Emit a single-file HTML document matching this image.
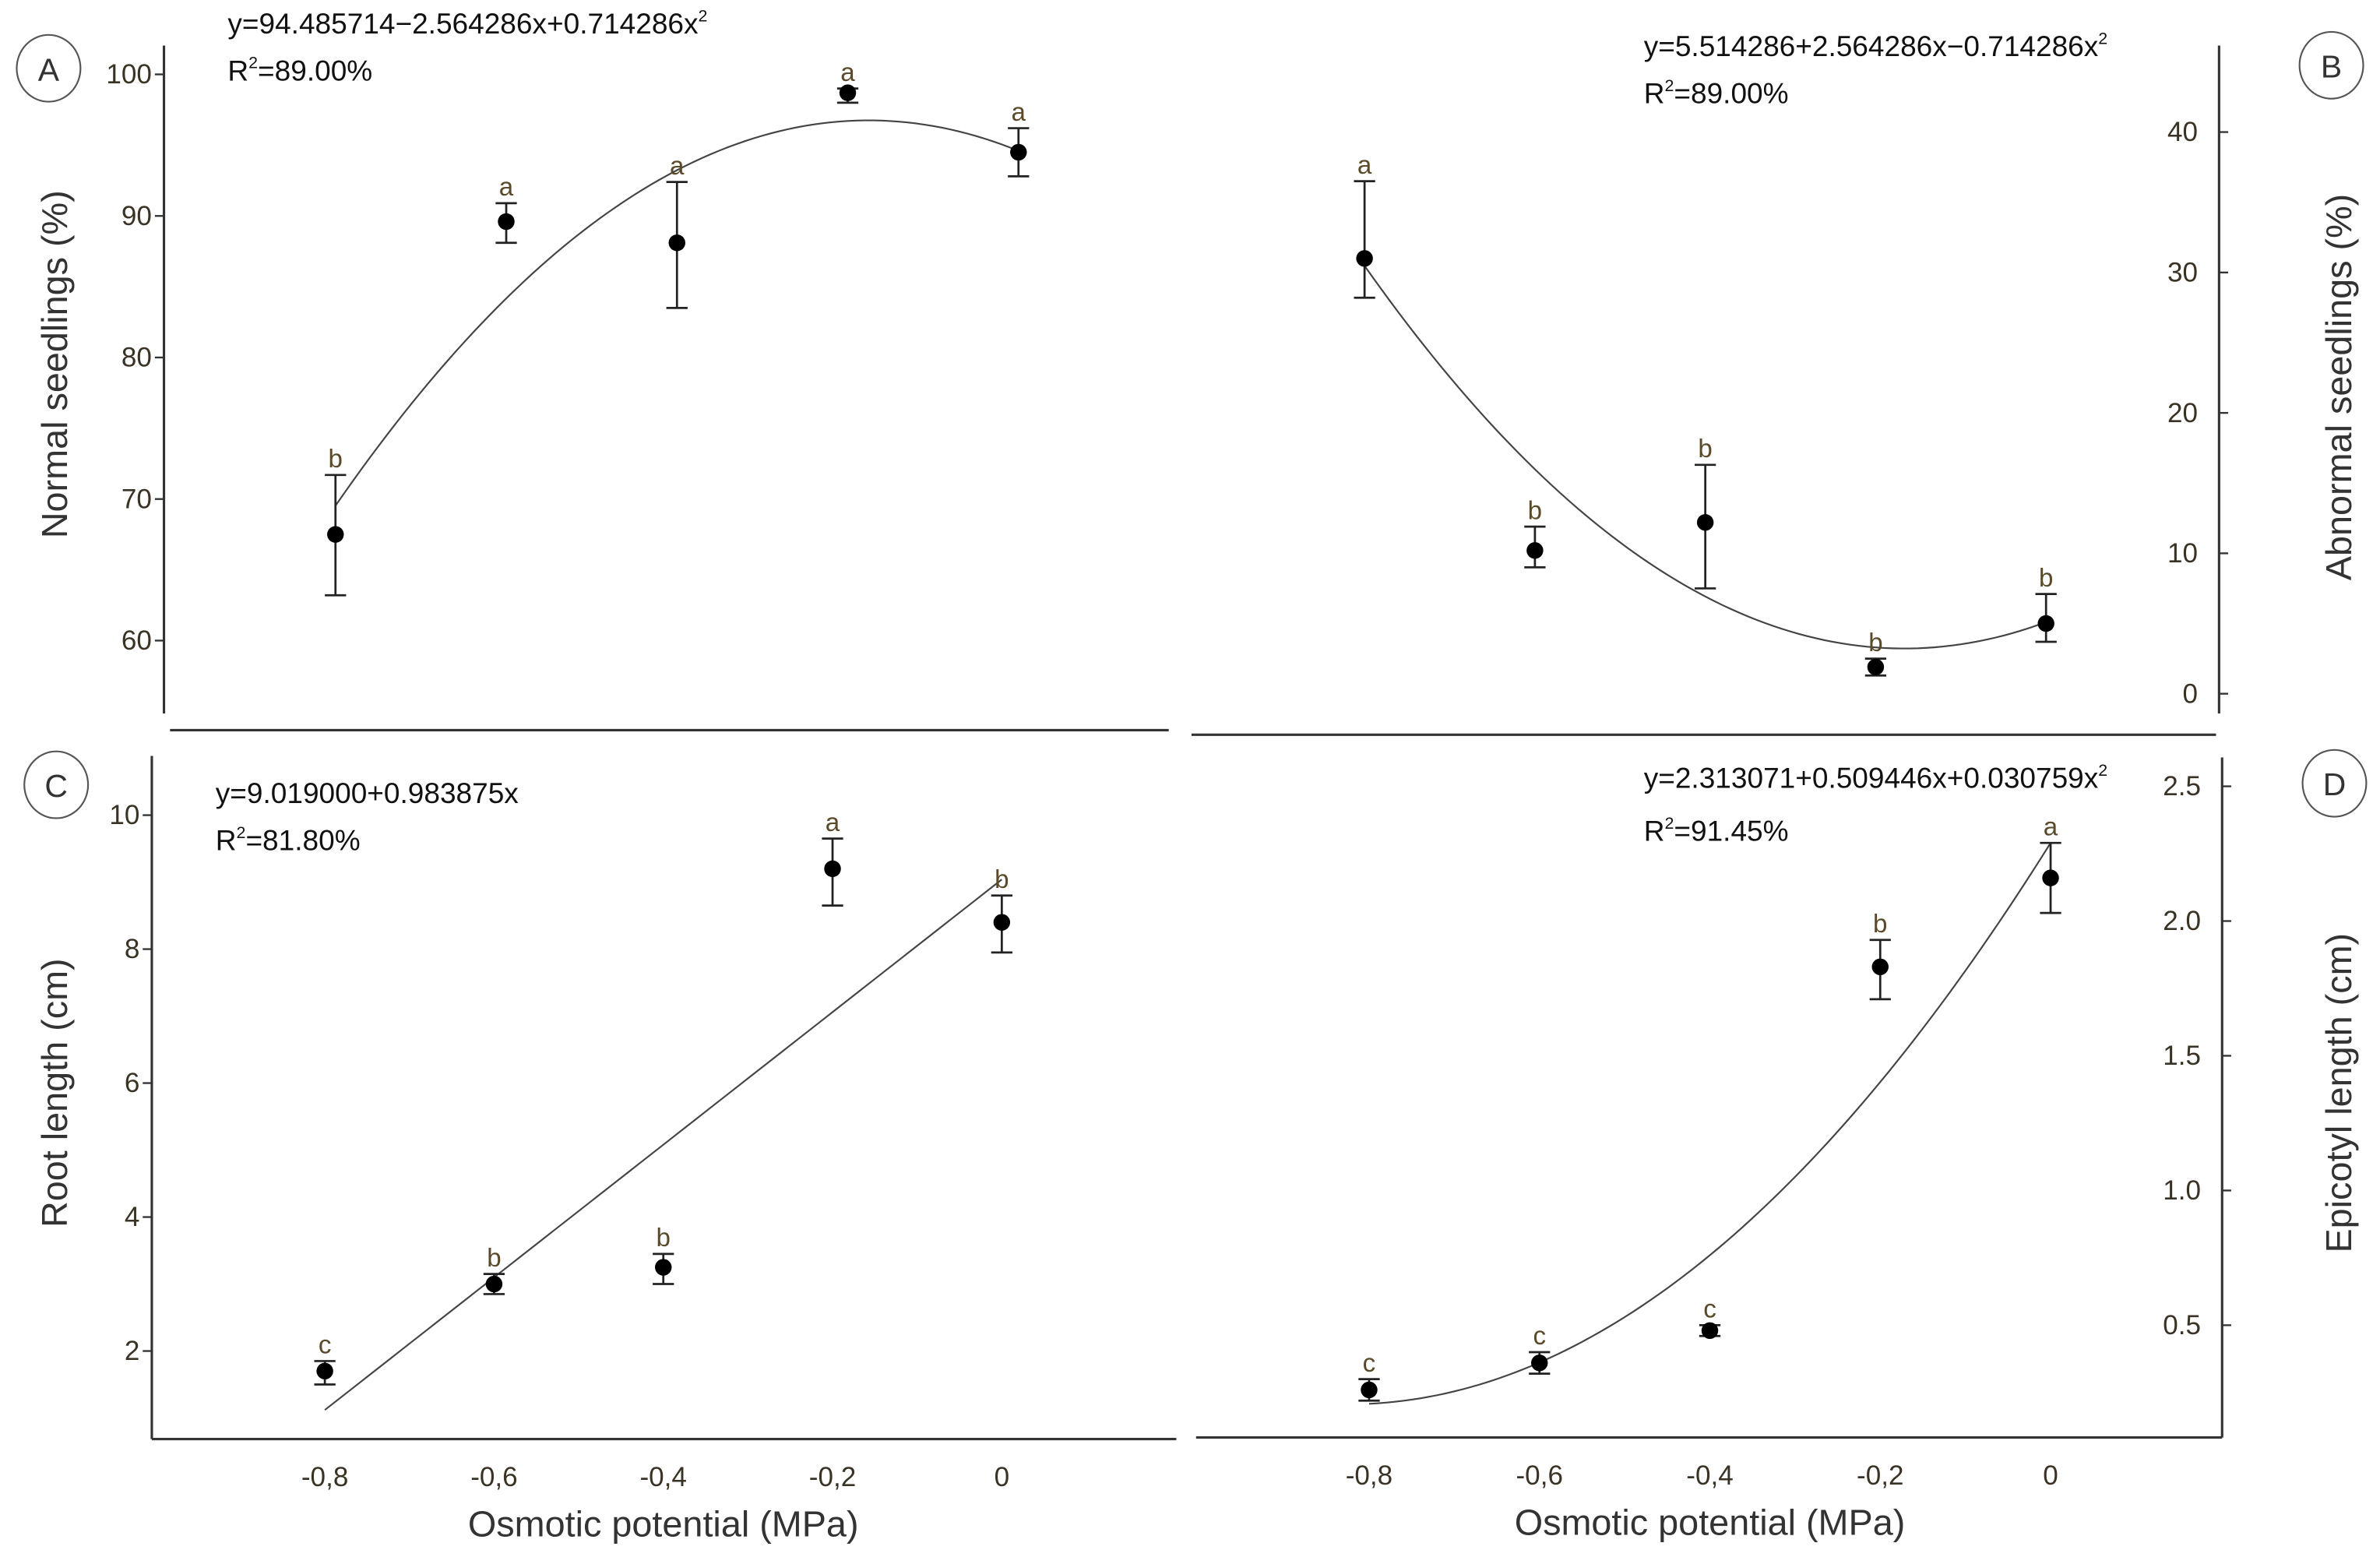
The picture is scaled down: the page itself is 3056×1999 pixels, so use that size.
<!DOCTYPE html>
<html><head><meta charset="utf-8"><style>
html,body{margin:0;padding:0;background:#fff;}
svg{display:block;}
text{font-family:"Liberation Sans Narrow","Liberation Sans",sans-serif;}
.tk{font-size:18px;fill:#3a3325;}
.lt{font-size:17px;fill:#5a4a2a;}
.eq{font-size:19px;fill:#111;font-family:"Liberation Sans",sans-serif;}
.ti{font-size:24px;fill:#333;font-family:"Liberation Sans",sans-serif;}
.pl{font-size:21px;fill:#333;font-family:"Liberation Sans",sans-serif;}
</style></head><body>
<svg id="fig" width="3056" height="1999" viewBox="0 0 1568 1025.7" xmlns="http://www.w3.org/2000/svg"></svg>
<script>
const xCategories = [-0.8, -0.6, -0.4, -0.2, 0];
const xTickLabels = ["-0,8", "-0,6", "-0,4", "-0,2", "0"];
const normalMean = [67.5, 89.6, 88.1, 98.7, 94.5];
const normalLow = [63.2, 88.1, 83.5, 98.0, 92.8];
const normalHigh = [71.7, 90.9, 92.4, 99.0, 96.2];
const normalLetters = ["b", "a", "a", "a", "a"];
const normalFit = [94.6, -24.5, -69.8];
const normalTicks = [60, 70, 80, 90, 100];
const abnMean = [31.0, 10.2, 12.2, 1.9, 5.0];
const abnLow = [28.2, 9.0, 7.5, 1.3, 3.7];
const abnHigh = [36.5, 11.9, 16.3, 2.5, 7.1];
const abnLetters = ["a", "b", "b", "b", "b"];
const abnFit = [5.1, 22.6, 67.9];
const abnTicks = [0, 10, 20, 30, 40];
const rootMean = [1.7, 3.0, 3.25, 9.2, 8.4];
const rootLow = [1.5, 2.85, 3.0, 8.65, 7.95];
const rootHigh = [1.85, 3.15, 3.45, 9.65, 8.8];
const rootLetters = ["c", "b", "b", "a", "b"];
const rootFit = [9.04, 9.9, 0];
const rootTicks = [2, 4, 6, 8, 10];
const epiMean = [0.26, 0.36, 0.48, 1.83, 2.16];
const epiLow = [0.22, 0.32, 0.46, 1.71, 2.03];
const epiHigh = [0.30, 0.40, 0.50, 1.93, 2.29];
const epiLetters = ["c", "c", "c", "b", "a"];
const epiFit = [2.29, 5.05, 3.06];
const epiTicks = [0.5, 1.0, 1.5, 2.0, 2.5];

const svg = document.getElementById('fig');
const NS = 'http://www.w3.org/2000/svg';
function mk(tag, attrs, parent) {
  const e = document.createElementNS(NS, tag);
  for (const k in attrs) e.setAttribute(k, attrs[k]);
  (parent || svg).appendChild(e);
  return e;
}
function panel(cfg) {
  const g = mk('g', {});
  
  
  const sx = v => cfg.x0 + (v - (-0.8)) / 0.8 * (cfg.x1 - cfg.x0);
  const sy = v => cfg.yA + (v - cfg.vA) / (cfg.vB - cfg.vA) * (cfg.yB - cfg.yA);
  const ya = mk('line', {x1: cfg.ax, y1: cfg.axTop, x2: cfg.ax, y2: cfg.axBot, stroke: '#333', 'stroke-width': 1.6}, g);
  
  
  const xa = mk('line', {x1: cfg.xl0, y1: cfg.xy, x2: cfg.xl1, y2: cfg.xy, stroke: '#333', 'stroke-width': 1.6}, g);
  
  
  cfg.ticks.forEach(t => {
    const y = sy(t);
    const d = cfg.right ? 6 : -6;
    mk('line', {x1: cfg.ax, y1: y, x2: cfg.ax + d, y2: y, stroke: '#333', 'stroke-width': 1.2}, g);
    const tx = mk('text', {x: cfg.right ? cfg.ax - 14 : cfg.ax - 8, y: y + 6, 'text-anchor': 'end', class: 'tk'}, g);
    
    
    tx.textContent = cfg.tickFmt ? t.toFixed(1) : String(t);
  });
  if (cfg.xlabels) {
    xCategories.forEach((c, i) => {
      const tx = mk('text', {x: sx(c), y: cfg.xy + 31, 'text-anchor': 'middle', class: 'tk'}, g);
      
      
      tx.textContent = xTickLabels[i];
    });
    const xt = mk('text', {x: (sx(-0.8) + sx(0)) / 2, y: cfg.xy + 64, 'text-anchor': 'middle', class: 'ti'}, g);
    
    
    xt.textContent = 'Osmotic potential (MPa)';
  }
  const yt = mk('text', {x: 0, y: 0, 'text-anchor': 'middle', class: 'ti', transform: `translate(${cfg.titleX},${cfg.titleY}) rotate(-90)`}, g);
  
  
  yt.textContent = cfg.title;
  let d = '';
  for (let k = 0; k <= 80; k++) {
    const x = -0.8 + k * 0.01;
    const v = cfg.fit[0] + cfg.fit[1] * x + cfg.fit[2] * x * x;
    d += (k ? 'L' : 'M') + sx(x).toFixed(2) + ',' + sy(v).toFixed(2);
  }
  const fl = mk('path', {d: d, fill: 'none', stroke: '#444', 'stroke-width': 1.1}, g);
  
  
  xCategories.forEach((c, i) => {
    const x = sx(c);
    const eb = mk('path', {d: `M${x},${sy(cfg.low[i])}V${sy(cfg.high[i])}M${x-7},${sy(cfg.low[i])}H${x+7}M${x-7},${sy(cfg.high[i])}H${x+7}`, stroke: '#222', 'stroke-width': 1.4, fill: 'none'}, g);
    
    
    const pt = mk('circle', {cx: x, cy: sy(cfg.mean[i]), r: 5.5, fill: '#000'}, g);
    
    
    const lt = mk('text', {x: x, y: sy(cfg.high[i]) - 5, 'text-anchor': 'middle', class: 'lt'}, g);
    
    
    lt.textContent = cfg.letters[i];
  });
  const e1 = mk('text', {x: cfg.eqX, y: cfg.eqY, class: 'eq'}, g);
  
  
  e1.innerHTML = cfg.eq;
  const e2 = mk('text', {x: cfg.eqX, y: cfg.eqY + cfg.eqGap, class: 'eq'}, g);
  
  
  e2.innerHTML = cfg.r2;
  const lc = mk('ellipse', {cx: cfg.cx, cy: cfg.cy, rx: 21, ry: 22, fill: 'none', stroke: '#555', 'stroke-width': 1.1}, g);
  
  
  const lx = mk('text', {x: cfg.cx, y: cfg.cy + 8, 'text-anchor': 'middle', class: 'pl'}, g);
  
  
  lx.textContent = cfg.label;
}
const sup = '<tspan font-size="11" dy="-8">2</tspan>';
panel({name: 'panel-a-normal-seedlings', x0: 221, x1: 671, yA: 422, vA: 60, yB: 49, vB: 100, ax: 108, axTop: 30, axBot: 470,
  xy: 481, xl0: 112, xl1: 770, ticks: normalTicks, right: false, title: 'Normal seedlings (%)', titleX: 44, titleY: 240,
  fit: normalFit, mean: normalMean, low: normalLow, high: normalHigh, letters: normalLetters,
  eq: 'y=94.485714−2.564286x+0.714286x' + sup, r2: 'R' + sup + '<tspan dy="8">=89.00%</tspan>', eqX: 150, eqY: 22, eqGap: 31, cx: 32, cy: 45, label: 'A'});
panel({name: 'panel-b-abnormal-seedlings', x0: 899, x1: 1348, yA: 457, vA: 0, yB: 87, vB: 40, ax: 1462, axTop: 30, axBot: 470,
  xy: 484, xl0: 785, xl1: 1460, ticks: abnTicks, right: true, title: 'Abnormal seedlings (%)', titleX: 1549, titleY: 255,
  fit: abnFit, mean: abnMean, low: abnLow, high: abnHigh, letters: abnLetters,
  eq: 'y=5.514286+2.564286x−0.714286x' + sup, r2: 'R' + sup + '<tspan dy="8">=89.00%</tspan>', eqX: 1083, eqY: 37, eqGap: 31, cx: 1536, cy: 43, label: 'B'});
panel({name: 'panel-c-root-length', x0: 214, x1: 660, yA: 890, vA: 2, yB: 537, vB: 10, ax: 100, axTop: 498, axBot: 948,
  xy: 948, xl0: 100, xl1: 775, ticks: rootTicks, right: false, title: 'Root length (cm)', titleX: 44, titleY: 720, xlabels: true,
  fit: rootFit, mean: rootMean, low: rootLow, high: rootHigh, letters: rootLetters,
  eq: 'y=9.019000+0.983875x', r2: 'R' + sup + '<tspan dy="8">=81.80%</tspan>', eqX: 142, eqY: 529, eqGap: 31, cx: 37, cy: 517, label: 'C'});
panel({name: 'panel-d-epicotyl-length', x0: 902, x1: 1351, yA: 873, vA: 0.5, yB: 518, vB: 2.5, ax: 1464, axTop: 499, axBot: 947,
  xy: 947, xl0: 788, xl1: 1464, ticks: epiTicks, right: true, tickFmt: true, title: 'Epicotyl length (cm)', titleX: 1549, titleY: 720, xlabels: true,
  fit: epiFit, mean: epiMean, low: epiLow, high: epiHigh, letters: epiLetters,
  eq: 'y=2.313071+0.509446x+0.030759x' + sup, r2: 'R' + sup + '<tspan dy="8">=91.45%</tspan>', eqX: 1083, eqY: 519, eqGap: 35, cx: 1538, cy: 516, label: 'D'});
</script>
</body></html>
